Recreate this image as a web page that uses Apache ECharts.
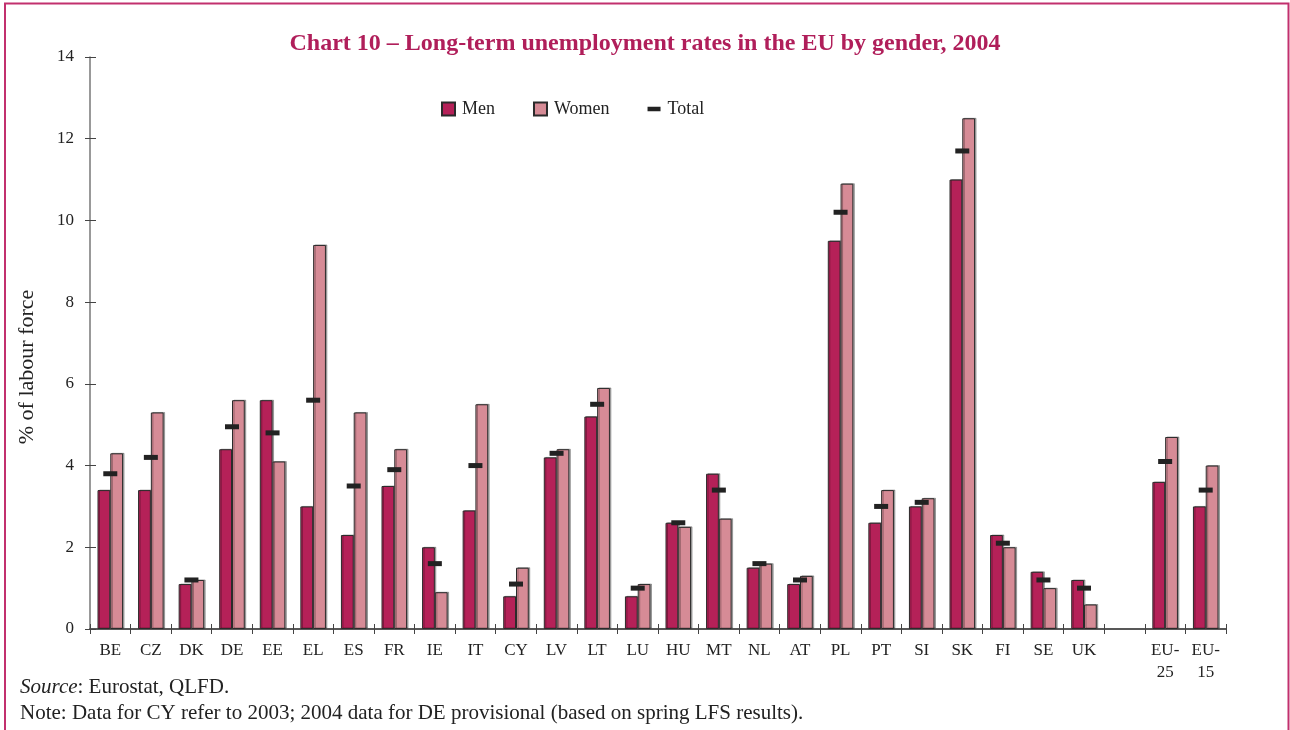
<!DOCTYPE html>
<html>
<head>
<meta charset="utf-8">
<script src="https://cdn.jsdelivr.net/npm/echarts@6/dist/echarts.min.js"></script>
<style>
  html, body { margin: 0; padding: 0; background: #fff; }
  #chart { width: 1290px; height: 730px; }
</style>
</head>
<body>
<div id="chart"></div>
<script>
// categories, with an empty slot before the EU aggregates
const countries = ['BE', 'CZ', 'DK', 'DE', 'EE', 'EL', 'ES', 'FR', 'IE', 'IT', 'CY', 'LV', 'LT',
  'LU', 'HU', 'MT', 'NL', 'AT', 'PL', 'PT', 'SI', 'SK', 'FI', 'SE', 'UK', '', 'EU-\n25', 'EU-\n15']

const men = [3.4, 3.4, 1.1, 4.4, 5.6, 3.0, 2.3, 3.5, 2.0, 2.9, 0.8, 4.2, 5.2,
  0.8, 2.6, 3.8, 1.5, 1.1, 9.5, 2.6, 3.0, 11.0, 2.3, 1.4, 1.2, null, 3.6, 3.0]
const women = [4.3, 5.3, 1.2, 5.6, 4.1, 9.4, 5.3, 4.4, 0.9, 5.5, 1.5, 4.4, 5.9,
  1.1, 2.5, 2.7, 1.6, 1.3, 10.9, 3.4, 3.2, 12.5, 2.0, 1.0, 0.6, null, 4.7, 4.0]
const total = [3.8, 4.2, 1.2, 4.95, 4.8, 5.6, 3.5, 3.9, 1.6, 4.0, 1.1, 4.3, 5.5,
  1.0, 2.6, 3.4, 1.6, 1.2, 10.2, 3.0, 3.1, 11.7, 2.1, 1.2, 1.0, null, 4.1, 3.4]

const yMax = 14
const yStep = 2

const serif = '"Liberation Serif", "DejaVu Serif", serif'
const menColor = '#B52158'
const womenColor = '#D68B96'
const barBorder = '#2b2b2b'

const chart = echarts.init(document.getElementById('chart'))

chart.setOption({
  animation: false,
  textStyle: { fontFamily: serif },
  title: {
    text: 'Chart 10 – Long-term unemployment rates in the EU by gender, 2004',
    left: 'center',
    top: 27,
    textStyle: { fontFamily: serif, fontSize: 24, fontWeight: 'bold', color: '#B01E5A' }
  },
  legend: {
    left: 441,
    top: 100,
    padding: 0,
    itemWidth: 13,
    itemHeight: 13,
    itemGap: 38,
    textStyle: { fontFamily: serif, fontSize: 18, color: '#222', padding: [0, 0, 0, 2] },
    data: [
      { name: 'Men', icon: 'rect' },
      { name: 'Women', icon: 'rect' },
      { name: 'Total', icon: 'path://M0,0h0.01v0.01h-0.01z M0,4h14v5h-14z M14,13h-0.01v-0.01h0.01z' }
    ]
  },
  grid: { left: 90, right: 64, top: 57, bottom: 101 },
  xAxis: [{
    type: 'category',
    data: countries,
    axisLine: { lineStyle: { color: '#222', width: 1.5 } },
    axisTick: { show: true, length: 5, lineStyle: { color: '#444' } },
    axisLabel: { fontFamily: serif, fontSize: 17, color: '#222', margin: 11, lineHeight: 22, interval: 0 }
  }, {
    type: 'category',
    data: countries,
    position: 'bottom',
    axisLine: { show: false },
    axisTick: { show: true, inside: true, length: 5, lineStyle: { color: '#444' } },
    axisLabel: { show: false }
  }],
  yAxis: [{
    type: 'value',
    min: 0,
    max: yMax,
    interval: yStep,
    name: '% of labour force',
    nameLocation: 'middle',
    nameGap: 52,
    nameTextStyle: { fontFamily: serif, fontSize: 22, color: '#222', padding: [0, 48, 0, 0] },
    axisLine: { show: true, lineStyle: { color: '#777', width: 1.5 } },
    axisTick: { show: true, length: 5, lineStyle: { color: '#444' } },
    axisLabel: { fontFamily: serif, fontSize: 17, color: '#222', margin: 16 },
    splitLine: { show: false }
  }, {
    type: 'value',
    min: 0,
    max: yMax,
    interval: yStep,
    position: 'left',
    axisLine: { show: false },
    axisTick: { show: true, inside: true, length: 6, lineStyle: { color: '#444' } },
    axisLabel: { show: false },
    splitLine: { show: false }
  }],
  series: [{
    name: 'Men',
    type: 'bar',
    data: men,
    barGap: '0%',
    barCategoryGap: '37%',
    itemStyle: {
      color: menColor, borderColor: barBorder, borderWidth: 1,
      shadowColor: 'rgba(0,0,0,0.3)', shadowOffsetX: 1.5, shadowOffsetY: -0.5
    }
  }, {
    name: 'Women',
    type: 'bar',
    data: women,
    itemStyle: {
      color: womenColor, borderColor: barBorder, borderWidth: 1,
      shadowColor: 'rgba(0,0,0,0.3)', shadowOffsetX: 1.5, shadowOffsetY: -0.5
    }
  }, {
    name: 'Total',
    type: 'scatter',
    data: total,
    symbol: 'rect',
    symbolSize: [14, 5],
    itemStyle: { color: '#222', opacity: 1 },
    z: 5
  }],
  graphic: [{
    type: 'rect',
    shape: { x: 5, y: 3.5, width: 1283.5, height: 740 },
    style: { fill: 'none', stroke: '#C2306E', lineWidth: 2 },
    silent: true
  }, {
    type: 'text',
    left: 20,
    top: 677,
    style: {
      text: '{i|Source}: Eurostat, QLFD.',
      font: '21px ' + serif,
      fill: '#222',
      rich: { i: { fontStyle: 'italic', fontFamily: serif, fontSize: 21, fill: '#222' } }
    }
  }, {
    type: 'text',
    left: 20,
    top: 703,
    style: {
      text: 'Note: Data for CY refer to 2003; 2004 data for DE provisional (based on spring LFS results).',
      font: '21px ' + serif,
      fill: '#222'
    }
  }]
})
</script>
</body>
</html>
